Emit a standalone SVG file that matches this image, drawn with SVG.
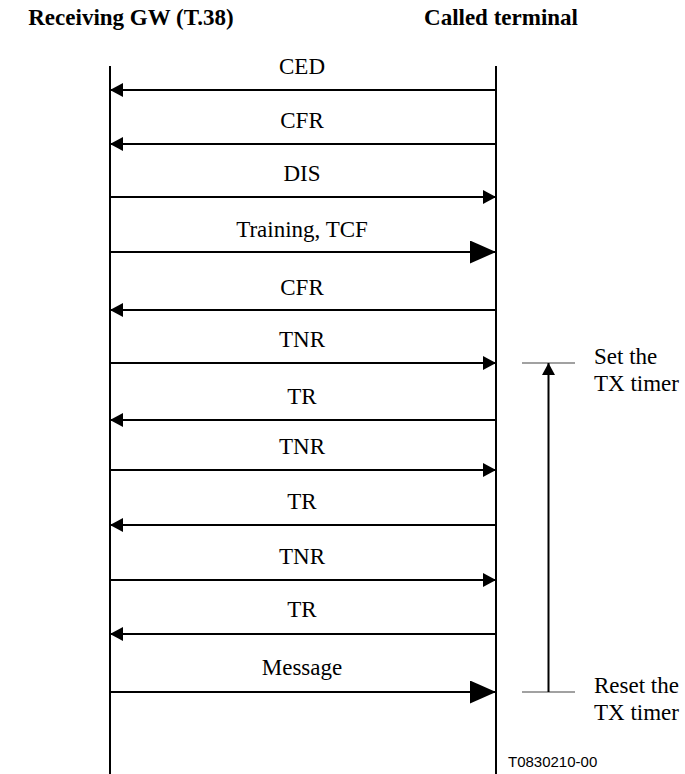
<svg xmlns="http://www.w3.org/2000/svg" width="685" height="774" viewBox="0 0 685 774">
<defs>
<marker id="sa" markerUnits="userSpaceOnUse" markerWidth="14" markerHeight="16" refX="13" refY="7" orient="auto"><path d="M0,0 L13,7 L0,14 Z" fill="#000"/></marker>
<marker id="ba" markerUnits="userSpaceOnUse" markerWidth="27" markerHeight="24" refX="26" refY="11.5" orient="auto"><path d="M0,0 L26,11.5 L0,23 Z" fill="#000"/></marker>
<marker id="ta" markerUnits="userSpaceOnUse" markerWidth="14" markerHeight="14" refX="12" refY="6.5" orient="auto"><path d="M0,0 L12,6.5 L0,13 Z" fill="#000"/></marker>
</defs>
<style>
.t{font-family:"Liberation Serif","Times New Roman",serif;font-size:23px;fill:#000}
.h{font-family:"Liberation Serif","Times New Roman",serif;font-size:23px;font-weight:bold;fill:#000}
.lbl{text-anchor:middle}
.life{stroke:#000;stroke-width:2;fill:none}
.msg{stroke:#000;stroke-width:2;fill:none}
.tick{stroke:#444;stroke-width:1.2;fill:none}
.code{font-family:"Liberation Sans",Arial,sans-serif;font-size:15px;fill:#000}
</style>
<rect width="685" height="774" fill="#fff"/>
<g id="gw">
<text class="h" x="131" y="25" text-anchor="middle">Receiving GW (T.38)</text>
<line class="life" x1="110" y1="66" x2="110" y2="774"/>
</g>
<g id="terminal">
<text class="h" x="501" y="25" text-anchor="middle">Called terminal</text>
<line class="life" x1="496" y1="66" x2="496" y2="774"/>
</g>
<g id="connectors">
<line class="msg" x1="496" y1="90" x2="110" y2="90" marker-end="url(#sa)"/>
<line class="msg" x1="496" y1="144" x2="110" y2="144" marker-end="url(#sa)"/>
<line class="msg" x1="110" y1="197" x2="496" y2="197" marker-end="url(#sa)"/>
<line class="msg" x1="110" y1="252" x2="496" y2="252" marker-end="url(#ba)"/>
<line class="msg" x1="496" y1="310" x2="110" y2="310" marker-end="url(#sa)"/>
<line class="msg" x1="110" y1="363" x2="496" y2="363" marker-end="url(#sa)"/>
<line class="msg" x1="496" y1="420" x2="110" y2="420" marker-end="url(#sa)"/>
<line class="msg" x1="110" y1="470" x2="496" y2="470" marker-end="url(#sa)"/>
<line class="msg" x1="496" y1="525" x2="110" y2="525" marker-end="url(#sa)"/>
<line class="msg" x1="110" y1="580" x2="496" y2="580" marker-end="url(#sa)"/>
<line class="msg" x1="496" y1="634" x2="110" y2="634" marker-end="url(#sa)"/>
<line class="msg" x1="110" y1="692" x2="496" y2="692" marker-end="url(#ba)"/>
</g>
<g id="labels">
<text class="t lbl" x="302" y="74">CED</text>
<text class="t lbl" x="302" y="128">CFR</text>
<text class="t lbl" x="302" y="181">DIS</text>
<text class="t lbl" x="302" y="237">Training, TCF</text>
<text class="t lbl" x="302" y="295">CFR</text>
<text class="t lbl" x="302" y="347">TNR</text>
<text class="t lbl" x="302" y="404">TR</text>
<text class="t lbl" x="302" y="454">TNR</text>
<text class="t lbl" x="302" y="509">TR</text>
<text class="t lbl" x="302" y="564">TNR</text>
<text class="t lbl" x="302" y="617">TR</text>
<text class="t lbl" x="302" y="675">Message</text>
</g>
<g id="timer">
<line class="tick" x1="522" y1="363" x2="575" y2="363"/>
<line class="tick" x1="522" y1="692" x2="575" y2="692"/>
<line class="msg" x1="548.5" y1="692" x2="548.5" y2="363" marker-end="url(#ta)"/>
<text class="t" x="594" y="364">Set the</text>
<text class="t" x="594" y="391">TX timer</text>
<text class="t" x="594" y="693">Reset the</text>
<text class="t" x="594" y="720">TX timer</text>
</g>
<text class="code" x="508" y="767">T0830210-00</text>
</svg>
